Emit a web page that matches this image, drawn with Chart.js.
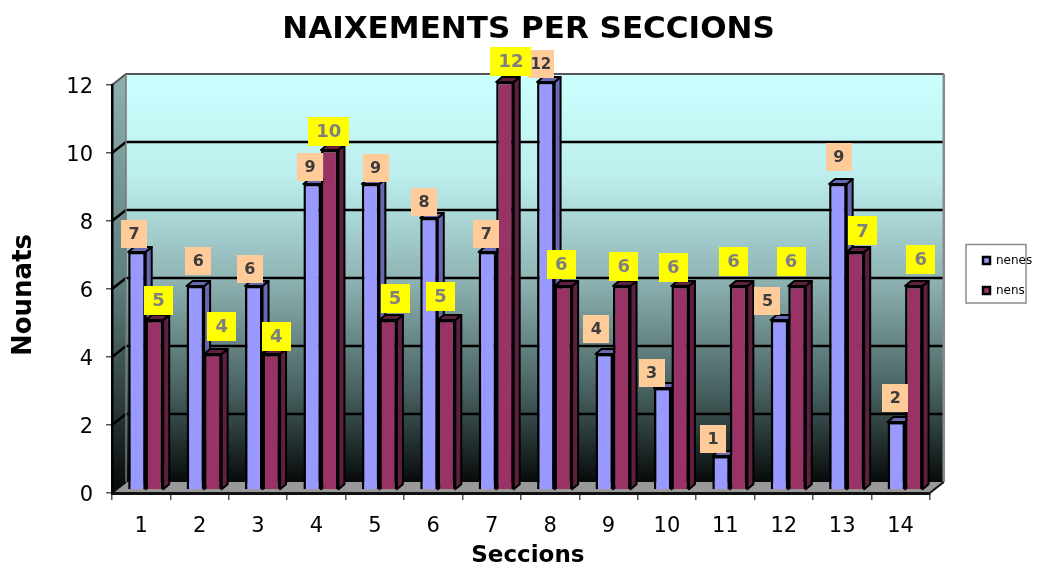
<!DOCTYPE html>
<html><head><meta charset="utf-8">
<style>html,body{margin:0;padding:0;background:#fff}#w{width:1037px;height:570px}</style>
<script src="https://cdn.jsdelivr.net/npm/chart.js@4"></script>
</head><body><div id="w"><canvas id="c"></canvas></div>
<script>
const categories = ['1','2','3','4','5','6','7','8','9','10','11','12','13','14'];
const nenes = [7,6,6,9,9,8,7,12,4,3,1,5,9,2];
const nens  = [5,4,4,10,5,5,12,6,6,6,6,6,7,6];
const yTicks = [0,2,4,6,8,10,12];

const FONT = '"DejaVu Sans", Verdana, sans-serif';
const DEPTH_X = 14, DEPTH_Y = 11;
const BAR_SHIFT_X = 4.5, BAR_SHIFT_Y = -3, SIDE_X = 6, SIDE_Y = 5;
const sideColors = ['#6868b2', '#5e1f40'];
const boxColors = ['#FFCC99', '#FFFF00'];
const textColors = ['#3c3c3c', '#808080'];
// where each value label sits relative to the top of its bar
const labelNudge = [
  [[-3,-18],[3,-25],[-4,-17],[-2,-17],[5,-16],[-5,-16],[-1,-18],[-5,-18],[-8,-25],[-11,-15],[-8,-17],[-12,-19],[1,-27],[-1,-24]],
  [[4,-20],[9,-28],[5,-18],[-1,-19],[7,-22],[-6,-24],[6,-21],[-2,-22],[2,-20],[-7,-19],[-5,-25],[-6,-25],[7,-21],[7,-27]]
];

function poly(ctx, pts, fill, stroke, lw) {
  ctx.beginPath();
  pts.forEach((p, i) => i ? ctx.lineTo(p[0], p[1]) : ctx.moveTo(p[0], p[1]));
  ctx.closePath();
  if (fill) { ctx.fillStyle = fill; ctx.fill(); }
  if (stroke) { ctx.strokeStyle = stroke; ctx.lineWidth = lw || 1; ctx.stroke(); }
}
function shiftTitle(scale, dx, dy) {
  if (scale._shifted) return;
  scale._shifted = true;
  const orig = scale.drawTitle;
  scale.drawTitle = function () {
    this.ctx.save(); this.ctx.translate(dx, dy); orig.call(this); this.ctx.restore();
  };
}

const walls = {
  id: 'walls',
  afterLayout(chart) {
    const lg = chart.legend, w = lg.right - lg.left, h = lg.bottom - lg.top;
    lg.left = 965; lg.right = lg.left + w;
    lg.top = 273.5 - h / 2 + 2; lg.bottom = lg.top + h;
    const t = chart.titleBlock;
    t.left += 25; t.right += 25;
    shiftTitle(chart.scales.x, 7, 0);
    shiftTitle(chart.scales.y, 9, 6);
  },
  beforeDraw(chart) {
    const ctx = chart.ctx, a = chart.chartArea, ys = chart.scales.y;
    const L = a.left, R = a.right, B = a.bottom, T = a.top;
    const bT = T - DEPTH_Y, bB = B - DEPTH_Y, bL = L + DEPTH_X, bR = R + DEPTH_X;
    ctx.save();
    let g = ctx.createLinearGradient(0, bT, 0, bB);
    g.addColorStop(0, '#ccffff'); g.addColorStop(.25, '#bdeeee'); g.addColorStop(.5, '#8fb4b4');
    g.addColorStop(.78, '#46605f'); g.addColorStop(1, '#070a0a');
    ctx.fillStyle = g; ctx.fillRect(bL, bT, bR - bL, bB - bT);
    let g2 = ctx.createLinearGradient(0, bT, 0, B);
    g2.addColorStop(0, '#8fb0b0'); g2.addColorStop(.5, '#5f7f7f'); g2.addColorStop(1, '#050808');
    poly(ctx, [[L,T],[bL,bT],[bL,bB],[L,B]], g2);
    poly(ctx, [[L,B],[bL,bB],[bR,bB],[R,B]], '#999999');
    yTicks.forEach(v => {
      if (v === 0) return;
      const y = ys.getPixelForValue(v);
      ctx.strokeStyle = v === 12 ? '#555555' : '#000';
      ctx.lineWidth = v === 12 ? 2 : 2.5;
      ctx.beginPath(); ctx.moveTo(L, y); ctx.lineTo(bL, y - DEPTH_Y); ctx.lineTo(bR, y - DEPTH_Y); ctx.stroke();
    });
    ctx.strokeStyle = '#8a8a8a'; ctx.lineWidth = 2.5;
    ctx.beginPath(); ctx.moveTo(bR, bT); ctx.lineTo(bR, bB); ctx.stroke();
    ctx.strokeStyle = '#777'; ctx.lineWidth = 1.5;
    ctx.beginPath(); ctx.moveTo(bL, bT); ctx.lineTo(bL, bB); ctx.stroke();
    ctx.strokeStyle = '#111'; ctx.lineWidth = 2;
    ctx.beginPath(); ctx.moveTo(R, B); ctx.lineTo(bR, bB); ctx.stroke();
    ctx.beginPath(); ctx.moveTo(L, B); ctx.lineTo(bL, bB); ctx.stroke();
    // legend frame
    ctx.fillStyle = '#fff'; ctx.strokeStyle = '#8c8c8c'; ctx.lineWidth = 1.5;
    ctx.fillRect(966, 244.5, 60, 58.5); ctx.strokeRect(966, 244.5, 60, 58.5);
    ctx.restore();
  },
  beforeDatasetDraw() { return false; },
  afterDatasetsDraw(chart) {
    const ctx = chart.ctx;
    ctx.save();
    ctx.translate(BAR_SHIFT_X, BAR_SHIFT_Y);
    const metas = [chart.getDatasetMeta(0), chart.getDatasetMeta(1)];
    const n = categories.length;
    // draw left to right so each group overlaps correctly
    for (let i = 0; i < n; i++) {
      metas.forEach((m, d) => {
        const el = m.data[i];
        const p = el.getProps(['x','y','base','width'], true);
        const l = p.x - p.width / 2, r = p.x + p.width / 2;
        ctx.lineJoin = 'round';
        poly(ctx, [[r,p.y],[r+SIDE_X,p.y-SIDE_Y],[r+SIDE_X,p.base-SIDE_Y],[r,p.base]], sideColors[d], '#000', 2);
        poly(ctx, [[l,p.y],[l+SIDE_X,p.y-SIDE_Y],[r+SIDE_X,p.y-SIDE_Y],[r,p.y]], sideColors[d], '#000', 2);
        el.draw(ctx);
      });
    }
    ctx.restore();
    // value labels
    ctx.save();
    ctx.textAlign = 'center'; ctx.textBaseline = 'middle';
    [nenes, nens].forEach((vals, d) => {
      vals.forEach((v, i) => {
        const p = metas[d].data[i].getProps(['x','y'], true);
        const cx = p.x + BAR_SHIFT_X + labelNudge[d][i][0];
        const cy = p.y + BAR_SHIFT_Y + labelNudge[d][i][1];
        const two = v >= 10;
        const w = d === 0 ? 26 : (two ? 41 : 29), h = d === 0 ? 28 : 29;
        ctx.fillStyle = boxColors[d];
        ctx.fillRect(Math.round(cx - w / 2), Math.round(cy - h / 2), w, h);
        ctx.fillStyle = textColors[d];
        ctx.font = 'bold ' + (d === 0 && two ? 15 : (d === 0 ? 16 : 18)) + 'px ' + FONT;
        ctx.fillText(String(v), cx, cy + 1);
      });
    });
    ctx.restore();
  }
};

new Chart(document.getElementById('c'), {
  type: 'bar',
  data: {
    labels: categories,
    datasets: [
      { label: 'nenes', data: nenes, backgroundColor: '#9999FF', borderColor: '#000', borderWidth: 2.5 },
      { label: 'nens',  data: nens,  backgroundColor: '#993366', borderColor: '#000', borderWidth: 2.5 }
    ]
  },
  plugins: [walls],
  options: {
    responsive: true, maintainAspectRatio: false, animation: false,
    layout: { padding: { left: 0, right: 30, top: 0, bottom: 0 } },
    datasets: { bar: { barPercentage: 1, categoryPercentage: 0.6 } },
    plugins: {
      tooltip: { enabled: false },
      title: { display: true, text: 'NAIXEMENTS PER SECCIONS', color: '#000',
        font: { family: FONT, weight: 'bold', size: 31, lineHeight: 1.2 },
        padding: { top: 11, bottom: 36.8 } },
      legend: { display: true, position: 'right', align: 'center',
        labels: { color: '#000', font: { family: FONT, size: 12 }, boxWidth: 7, boxHeight: 7, padding: 18 } }
    },
    scales: {
      x: {
        grid: { display: true, drawOnChartArea: false, drawTicks: true, tickLength: 7, color: '#555', lineWidth: 1.5, offset: true },
        border: { display: true, color: '#111', width: 3 },
        ticks: { color: '#000', font: { family: FONT, size: 21 }, padding: 14, maxRotation: 0 },
        title: { display: true, text: 'Seccions', color: '#000', font: { family: FONT, weight: 'bold', size: 23 }, padding: 0 },
        afterFit(s) { s.height = 77; }
      },
      y: {
        min: 0, max: 12,
        afterBuildTicks(s) { s.ticks = yTicks.map(v => ({ value: v })); },
        grid: { display: true, drawOnChartArea: false, drawTicks: true, tickLength: 6, color: '#555', lineWidth: 1.5 },
        border: { display: true, color: '#000', width: 2.5 },
        ticks: { color: '#000', font: { family: FONT, size: 21 }, padding: 13, labelOffset: 2.5 },
        title: { display: true, text: 'Nounats', color: '#000', font: { family: FONT, weight: 'bold', size: 26 }, padding: 0 },
        afterFit(s) { s.width = 112; }
      }
    }
  }
});
</script>
</body></html>
